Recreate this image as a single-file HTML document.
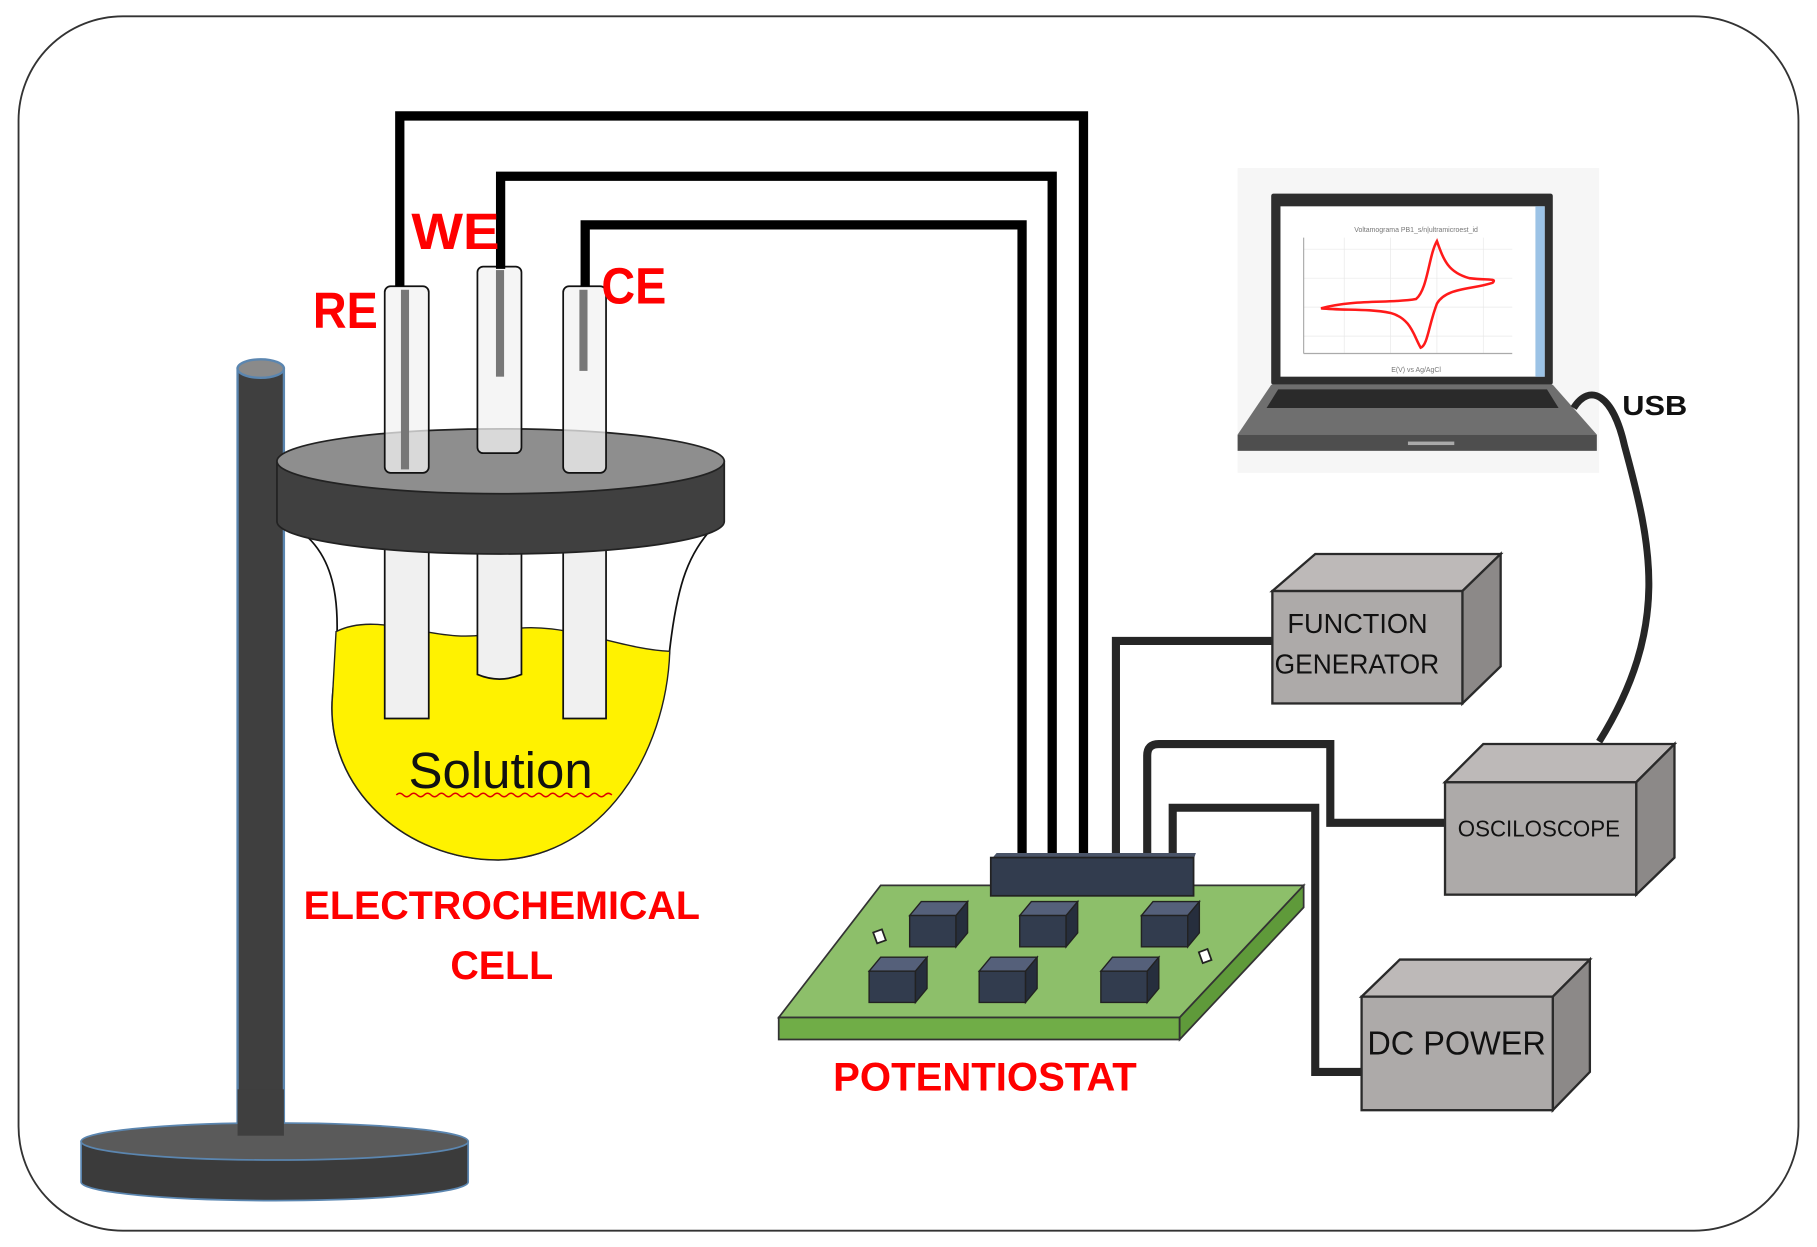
<!DOCTYPE html>
<html><head><meta charset="utf-8"><style>
html,body{margin:0;padding:0;background:#fff}
svg{display:block}
text{font-family:"Liberation Sans",sans-serif}
</style></head><body>
<svg width="1817" height="1247" viewBox="0 0 1568 1076" xmlns="http://www.w3.org/2000/svg">
<rect x="0" y="0" width="1568" height="1076" fill="#fff"/>
<rect x="16" y="14" width="1536" height="1048" rx="90" fill="#fff" stroke="#333" stroke-width="1.6"/>

<!-- stand -->
<rect x="205" y="318" width="40" height="660" fill="#3f3f3f" stroke="#5b86b0" stroke-width="2"/>
<ellipse cx="225" cy="318" rx="20" ry="8" fill="#8a8a8a" stroke="#5b86b0" stroke-width="2"/>
<path d="M70,985 L70,1020 A167,16 0 0 0 404,1020 L404,985 Z" fill="#3b3b3b" stroke="#5b86b0" stroke-width="1.5"/>
<ellipse cx="237" cy="985" rx="167" ry="16" fill="#5a5a5a" stroke="#5b86b0" stroke-width="1.5"/>
<rect x="205" y="940" width="40" height="40" fill="#3f3f3f"/>

<!-- flask -->
<path d="M255,455 C300,485 292,545 287,600 C280,680 350,742 430,742 C520,740 570,650 578,560 C585,500 595,478 615,455 Z" fill="#fff" stroke="#111" stroke-width="1.5"/>
<path d="M290,545 C330,525 380,560 430,545 C480,532 530,560 578,562 C575,650 520,740 430,742 C350,742 280,680 287,600 Z" fill="#fff200" stroke="#222" stroke-width="1.2"/>

<!-- tubes below lid -->
<g fill="#f0f0f0" stroke="#111" stroke-width="1.5">
<path d="M332,470 L332,620 L370,620 L370,470"/>
<path d="M412,470 L412,582 Q431,590 450,582 L450,470"/>
<path d="M486,470 L486,620 L523,620 L523,470"/>
</g>
<text x="432" y="680" font-size="44" text-anchor="middle" fill="#111">Solution</text>
<path d="M342,686 q3,-3 6,0 t6,0 t6,0 t6,0 t6,0 t6,0 t6,0 t6,0 t6,0 t6,0 t6,0 t6,0 t6,0 t6,0 t6,0 t6,0 t6,0 t6,0 t6,0 t6,0 t6,0 t6,0 t6,0 t6,0 t6,0 t6,0 t6,0 t6,0 t6,0 t6,0 t6,0" fill="none" stroke="#d00" stroke-width="1.3"/>

<!-- lid -->
<path d="M239,398 L239,450 A193,28 0 0 0 625,450 L625,398 Z" fill="#404040" stroke="#222" stroke-width="1.5"/>
<ellipse cx="432" cy="398" rx="193" ry="28" fill="#8e8e8e" stroke="#222" stroke-width="1.5"/>

<!-- tubes above lid -->
<g stroke="#111" stroke-width="1.5">
<rect x="332" y="247" width="38" height="161" rx="5" fill="#f1f1f1" fill-opacity="0.75"/>
<rect x="412" y="230" width="38" height="161" rx="5" fill="#f1f1f1" fill-opacity="0.75"/>
<rect x="486" y="247" width="37" height="161" rx="5" fill="#f1f1f1" fill-opacity="0.75"/>
</g>
<rect x="346" y="250" width="7" height="155" fill="#777"/>
<rect x="428" y="233" width="7" height="92" fill="#777"/>
<rect x="500" y="250" width="7" height="70" fill="#777"/>

<!-- electrode wires -->
<g fill="none" stroke="#000" stroke-width="8">
<path d="M345,247 L345,100 L935,100 L935,742"/>
<path d="M432,232 L432,152 L908,152 L908,742"/>
<path d="M505,247 L505,194 L882,194 L882,742"/>
</g>

<g font-weight="bold" fill="#ff0000" font-size="44">
<text x="270" y="283" textLength="56" lengthAdjust="spacingAndGlyphs">RE</text>
<text x="355" y="215" textLength="76" lengthAdjust="spacingAndGlyphs">WE</text>
<text x="519" y="262" textLength="56" lengthAdjust="spacingAndGlyphs">CE</text>
</g>
<g font-weight="bold" fill="#ff0000" font-size="34" text-anchor="middle">
<text x="433" y="793" textLength="342" lengthAdjust="spacingAndGlyphs">ELECTROCHEMICAL</text>
<text x="433" y="845">CELL</text>
<text x="850" y="941" textLength="262" lengthAdjust="spacingAndGlyphs">POTENTIOSTAT</text>
</g>

<!-- instrument wires -->
<g fill="none" stroke="#262626" stroke-width="7">
<path d="M963,742 L963,553 L1100,553"/>
<path d="M990,742 L990,652 Q990,642 1000,642 L1148,642 L1148,710 L1250,710"/>
<path d="M1012,742 L1012,697 L1135,697 L1135,925 L1177,925"/>
</g>

<!-- board -->
<polygon points="672,878 760,764 1125,764 1018,878" fill="#8dbf6a" stroke="#333" stroke-width="1.5"/>
<polygon points="672,878 1018,878 1018,897 672,897" fill="#70ad47" stroke="#333" stroke-width="1.5"/>
<polygon points="1018,878 1125,764 1125,783 1018,897" fill="#5f9a3a" stroke="#333" stroke-width="1.5"/>
<polygon points="855,742 860,736 1032,736 1030,742" fill="#4a5468"/>
<rect x="855" y="740" width="175" height="33" fill="#323c4e" stroke="#222" stroke-width="1.5"/>

<g stroke="#222" stroke-width="1.2">
<g id="c1"><polygon points="785,790 795,778 835,778 825,790" fill="#55607a"/><rect x="785" y="790" width="40" height="27" fill="#323c4e"/><polygon points="825,790 835,778 835,805 825,817" fill="#262e3d"/></g>
<use href="#c1" x="95" y="0"/>
<use href="#c1" x="200" y="0"/>
<use href="#c1" x="-35" y="48"/>
<use href="#c1" x="60" y="48"/>
<use href="#c1" x="165" y="48"/>
</g>
<rect x="755" y="803" width="8" height="10" fill="#fff" stroke="#222" stroke-width="1.5" transform="rotate(-20 759 808)"/>
<rect x="1036" y="820" width="8" height="10" fill="#fff" stroke="#222" stroke-width="1.5" transform="rotate(-20 1040 825)"/>

<!-- boxes -->
<g stroke="#2a2a2a" stroke-width="2">
<polygon points="1098,510 1135,478 1295,478 1262,510" fill="#bdb9b8"/>
<polygon points="1262,510 1295,478 1295,575 1262,607" fill="#8c8988"/>
<rect x="1098" y="510" width="164" height="97" fill="#adaaa9"/>
<polygon points="1247,675 1280,642 1445,642 1412,675" fill="#bdb9b8"/>
<polygon points="1412,675 1445,642 1445,740 1412,772" fill="#8c8988"/>
<rect x="1247" y="675" width="165" height="97" fill="#adaaa9"/>
<polygon points="1175,860 1208,828 1372,828 1340,860" fill="#bdb9b8"/>
<polygon points="1340,860 1372,828 1372,925 1340,958" fill="#8c8988"/>
<rect x="1175" y="860" width="165" height="98" fill="#adaaa9"/>
</g>
<g fill="#111">
<text x="1111" y="546" font-size="24" textLength="121" lengthAdjust="spacingAndGlyphs">FUNCTION</text>
<text x="1100" y="581" font-size="24" textLength="142" lengthAdjust="spacingAndGlyphs">GENERATOR</text>
<text x="1258" y="722" font-size="20" textLength="140" lengthAdjust="spacingAndGlyphs">OSCILOSCOPE</text>
<text x="1180" y="910" font-size="29" textLength="154" lengthAdjust="spacingAndGlyphs">DC POWER</text>
<text x="1400" y="358" font-size="24" font-weight="bold" textLength="56" lengthAdjust="spacingAndGlyphs">USB</text>
</g>

<!-- laptop -->
<rect x="1068" y="145" width="312" height="263" fill="#f6f6f6"/>
<rect x="1097" y="167" width="243" height="165" fill="#2e2e2e" rx="2"/>
<rect x="1105" y="178" width="228" height="147" fill="#fff"/>
<rect x="1325" y="178" width="8" height="147" fill="#9cc3e6"/>
<text x="1222" y="200" font-size="6" fill="#777" text-anchor="middle">Voltamograma PB1_s/n|ultramicroest_id</text>
<g stroke="#e8e8e8" stroke-width="0.6">
<line x1="1125" y1="215" x2="1305" y2="215"/><line x1="1125" y1="240" x2="1305" y2="240"/><line x1="1125" y1="265" x2="1305" y2="265"/><line x1="1125" y1="290" x2="1305" y2="290"/>
<line x1="1160" y1="205" x2="1160" y2="305"/><line x1="1200" y1="205" x2="1200" y2="305"/><line x1="1240" y1="205" x2="1240" y2="305"/><line x1="1280" y1="205" x2="1280" y2="305"/>
</g>
<line x1="1125" y1="205" x2="1125" y2="305" stroke="#aaa"/>
<line x1="1125" y1="305" x2="1305" y2="305" stroke="#aaa"/>
<path d="M1140,266 C1170,258 1200,262 1222,258 C1232,250 1233,220 1240,208 C1246,225 1250,235 1268,240 C1285,242 1292,240 1288,244 C1270,250 1248,248 1240,262 C1233,280 1232,298 1226,300 C1220,290 1218,275 1200,270 C1180,266 1160,268 1140,266 Z" fill="none" stroke="#ff1a1a" stroke-width="2.2"/>
<text x="1222" y="321" font-size="6" fill="#777" text-anchor="middle">E(V) vs Ag/AgCl</text>
<polygon points="1097,332 1340,332 1378,375 1068,375" fill="#6f6f6f"/>
<polygon points="1103,336 1335,336 1345,352 1093,352" fill="#2a2a2a"/>
<rect x="1068" y="375" width="310" height="14" fill="#4e4e4e"/>
<rect x="1215" y="381" width="40" height="3" fill="#aaa"/>

<path d="M1358,352 C1372,330 1392,340 1402,385 C1425,470 1442,540 1380,640" fill="none" stroke="#262626" stroke-width="6"/>
</svg>
</body></html>
